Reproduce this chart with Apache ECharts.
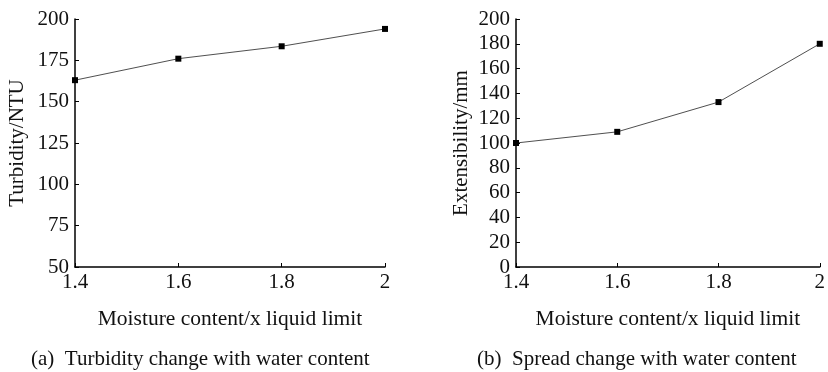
<!DOCTYPE html>
<html><head><meta charset="utf-8">
<script src="https://cdn.jsdelivr.net/npm/echarts@6/dist/echarts.min.js"></script>
<style>html,body{margin:0;padding:0;background:#fff}#c{width:828px;height:372px}</style>
</head><body><div id="c"></div>
<script>
const moisture = [1.4, 1.6, 1.8, 2.0];
const turbidity = [163, 176, 183.5, 194];
const extensibility = [100, 109, 133, 180];
const xTicks = ['1.4', '1.6', '1.8', '2'];
const captionA = '(a)  Turbidity change with water content';
const captionB = '(b)  Spread change with water content';
const xName = 'Moisture content/x liquid limit';
const yNameA = 'Turbidity/NTU';
const yNameB = 'Extensibility/mm';

const FONT = 'Liberation Serif';
const chart = echarts.init(document.getElementById('c'));
function xAxis(gi){
  return {type:'value', gridIndex:gi, min:1.4, max:2, interval:0.2,
    name:xName, nameLocation:'middle', nameGap:41,
    nameTextStyle:{fontFamily:FONT, fontSize:21.5, color:'#111'},
    axisLine:{lineStyle:{color:'#000', width:1.5}},
    axisTick:{inside:true, length:4, lineStyle:{color:'#000'}},
    splitLine:{show:false},
    axisLabel:{fontFamily:FONT, fontSize:21, color:'#111', margin:5,
      formatter:v=>{const i=Math.round((v-1.4)/0.2); return xTicks[i];}}};
}
function yAxis(gi,min,max,interval,name,gap){
  return {type:'value', gridIndex:gi, min:min, max:max, interval:interval,
    name:name, nameLocation:'middle', nameGap:gap,
    nameTextStyle:{fontFamily:FONT, fontSize:21, color:'#111'},
    axisLine:{show:true, lineStyle:{color:'#000', width:1.5}},
    axisTick:{show:true, inside:true, length:4, lineStyle:{color:'#000'}},
    splitLine:{show:false},
    axisLabel:{fontFamily:FONT, fontSize:21, color:'#111', margin:6}};
}
chart.setOption({
  animation:false,
  backgroundColor:'#fff',
  grid:[{left:75, top:19, width:310, height:248},{left:516, top:19, width:310, height:248}],
  xAxis:[xAxis(0), xAxis(1)],
  yAxis:[yAxis(0,50,200,25,yNameA,47),yAxis(1,0,200,20,yNameB,44)],
  title:[
    {text:captionA, left:26, top:344, textStyle:{fontFamily:FONT, fontSize:21, fontWeight:'normal', color:'#111'}},
    {text:captionB, left:472, top:344, textStyle:{fontFamily:FONT, fontSize:21, fontWeight:'normal', color:'#111'}}
  ],
  series:[
    {type:'line', xAxisIndex:0, yAxisIndex:0, data:moisture.map((x,i)=>[x,turbidity[i]]),
     symbol:'rect', symbolSize:6, itemStyle:{color:'#000'}, lineStyle:{color:'#222', width:0.8}},
    {type:'line', xAxisIndex:1, yAxisIndex:1, data:moisture.map((x,i)=>[x,extensibility[i]]),
     symbol:'rect', symbolSize:6, itemStyle:{color:'#000'}, lineStyle:{color:'#222', width:0.8}}
  ]
});
</script></body></html>
